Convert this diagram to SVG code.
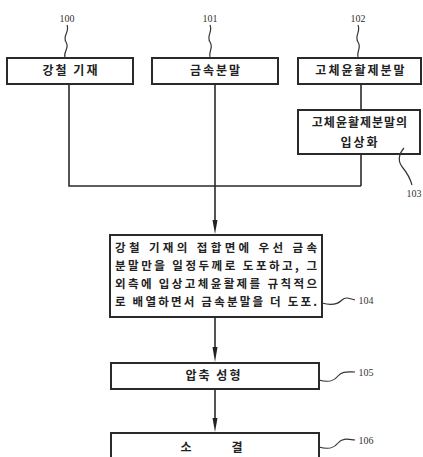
<svg xmlns="http://www.w3.org/2000/svg" width="423" height="457" viewBox="0 0 423 457">
<style>
.box{fill:#fff;stroke:#2a2a2a;stroke-width:2}
.ln{fill:none;stroke:#2a2a2a;stroke-width:1.6}
.ld{fill:none;stroke:#333;stroke-width:1.2}
.t{font-family:"Noto Sans CJK KR","Noto Sans",sans-serif;font-size:12px;font-weight:bold;fill:#222;text-anchor:middle;letter-spacing:2px}
.tl{font-family:"Noto Sans CJK KR","Noto Sans",sans-serif;font-size:11.5px;font-weight:bold;fill:#222}
.n{font-family:"Liberation Serif",serif;font-size:10px;fill:#333;text-anchor:middle}
.ah{fill:#222}
</style>
<rect width="423" height="457" fill="#fff"/>
<g id="connectors">
<path class="ln" d="M69,84 V186 H361"/>
<path class="ln" d="M215,84 V186"/>
<path class="ln" d="M361,84 V110"/>
<path class="ln" d="M361,154 V186"/>
<path class="ln" d="M215,186 V221"/>
<path class="ah" d="M212.5,220 L217.5,220 L215,234 Z"/>
<path class="ln" d="M215,317 V348"/>
<path class="ah" d="M212.5,347 L217.5,347 L215,362 Z"/>
<path class="ln" d="M215,389 V418"/>
<path class="ah" d="M212.5,418 L217.5,418 L215,432 Z"/>
</g>
<g id="n100">
<rect class="box" x="7" y="58" width="126" height="26"/>
<text class="t" x="71" y="75">강철 기재</text>
<text class="n" x="67" y="22">100</text>
<path class="ld" d="M67,25 C70,32 62,36 66,42 C70,48 63,52 65,57"/>
</g>
<g id="n101">
<rect class="box" x="152" y="58" width="126" height="26"/>
<text class="t" x="216" y="75">금속분말</text>
<text class="n" x="210" y="22">101</text>
<path class="ld" d="M210,25 C213,32 206,36 210,42 C214,48 208,52 210,57"/>
</g>
<g id="n102">
<rect class="box" x="298" y="58" width="123" height="26"/>
<text class="t" x="361" y="75">고체윤활제분말</text>
<text class="n" x="358" y="22">102</text>
<path class="ld" d="M358,25 C361,32 354,36 358,42 C362,48 356,52 358,57"/>
</g>
<g id="n103">
<rect class="box" x="298" y="110" width="122" height="44"/>
<text class="t" x="360" y="127" style="letter-spacing:1px">고체윤활제분말의</text>
<text class="t" x="360" y="147">입상화</text>
<text class="n" x="414" y="197">103</text>
<path class="ld" d="M404,148 C398,155 398,162 403,168 C408,174 410,178 412,185"/>
</g>
<g id="n104">
<rect class="box" x="110" y="235" width="212" height="82"/>
<text class="tl" x="115" y="252" textLength="202" lengthAdjust="spacing">강철 기재의 접합면에 우선 금속</text>
<text class="tl" x="115" y="270" textLength="202" lengthAdjust="spacing">분말만을 일정두께로 도포하고, 그</text>
<text class="tl" x="115" y="288" textLength="202" lengthAdjust="spacing">외측에 입상고체윤활제를 규칙적으</text>
<text class="tl" x="115" y="306" textLength="202" lengthAdjust="spacing">로 배열하면서 금속분말을 더 도포.</text>
<text class="n" x="366" y="304">104</text>
<path class="ld" d="M322,303 C332,306 338,304 342,300 C346,296 350,299 355,300"/>
</g>
<g id="n105">
<rect class="box" x="111" y="363" width="208" height="26"/>
<text class="t" x="214" y="380">압축 성형</text>
<text class="n" x="366" y="376">105</text>
<path class="ld" d="M319,380 C329,383 334,381 338,376 C342,371 347,372 355,372"/>
</g>
<g id="n106">
<rect class="box" x="111" y="433" width="208" height="30"/>
<text class="t" x="187" y="452">소</text>
<text class="t" x="238" y="452">결</text>
<text class="n" x="366" y="444">106</text>
<path class="ld" d="M319,447 C329,450 334,448 338,443 C342,438 347,439 355,440"/>
</g>
</svg>
